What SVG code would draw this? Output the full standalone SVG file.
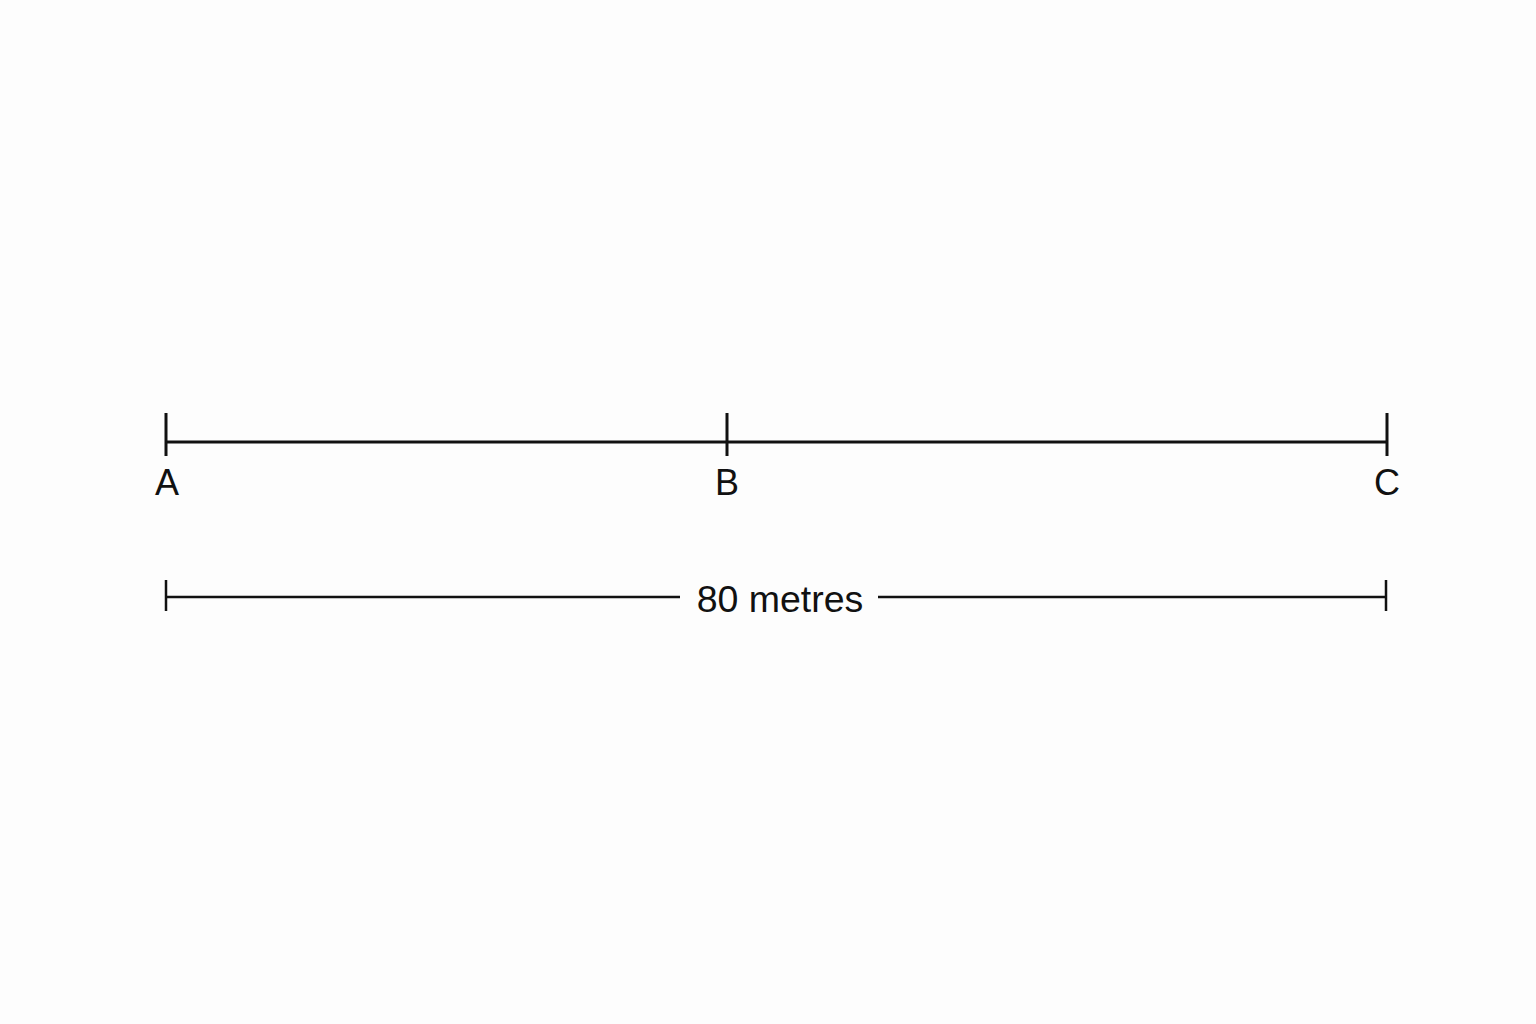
<svg xmlns="http://www.w3.org/2000/svg" width="1536" height="1024" viewBox="0 0 1536 1024">
<style>
.ln{stroke:#111;stroke-width:3;fill:none}
.dim{stroke:#111;stroke-width:2.5;fill:none}
.lbl{font-family:"Liberation Sans",Arial,sans-serif;font-size:36px;fill:#111;text-anchor:middle}
.dl{font-family:"Liberation Sans",Arial,sans-serif;font-size:37.5px;fill:#111;text-anchor:middle}
</style>
<rect width="1536" height="1024" fill="#fdfdfd"/>
<g id="connectors">
<line class="ln" x1="166" y1="442" x2="1387" y2="442"/>
</g>
<g id="A"><line class="ln" x1="166" y1="413" x2="166" y2="456"/><text class="lbl" x="167" y="495">A</text></g>
<g id="B"><line class="ln" x1="727" y1="413" x2="727" y2="456"/><text class="lbl" x="727" y="495">B</text></g>
<g id="C"><line class="ln" x1="1387" y1="413" x2="1387" y2="456"/><text class="lbl" x="1387" y="495">C</text></g>
<g id="dimension">
<line class="dim" x1="166" y1="580" x2="166" y2="611"/>
<line class="dim" x1="1386" y1="580" x2="1386" y2="611"/>
<line class="dim" x1="166" y1="597" x2="680" y2="597"/>
<line class="dim" x1="878" y1="597" x2="1386" y2="597"/>
<text class="dl" x="780" y="612">80 metres</text>
</g>
</svg>
